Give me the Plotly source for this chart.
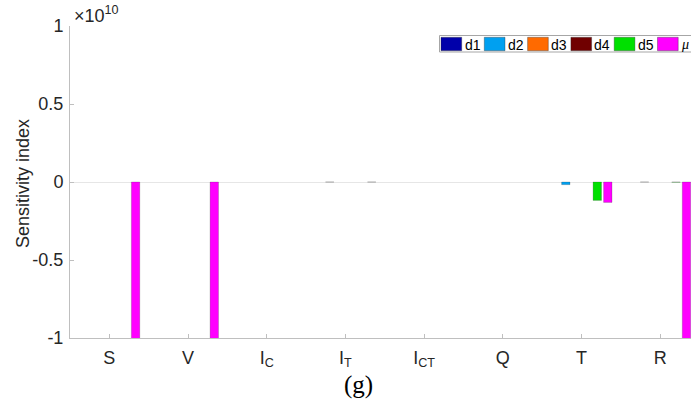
import plotly.graph_objects as go

# Model compartments (x categories) and their tick labels
categories = ["S", "V", "IC", "IT", "ICT", "Q", "T", "R"]
tick_labels = ["S", "V", "I<sub>C</sub>", "I<sub>T</sub>", "I<sub>CT</sub>", "Q", "T", "R"]

# Sensitivity indices per parameter (axis shows units of 1e10)
series_names = ["d1", "d2", "d3", "d4", "d5", "μ"]
series_colors = ["#0000AA", "#00A0F0", "#FF6A00", "#700000", "#00E000", "#FF00FF"]

d1 = [0.0, 0.0, 0.0, 0.0, 0.0, 0.0, 0.0, 0.0]
d2 = [0.0, 0.0, 0.0, -2.0e6, 0.0, 0.0, -1.7e8, -2.0e6]
d3 = [0.0, 0.0, 0.0, 0.0, 0.0, 0.0, 0.0, 0.0]
d4 = [0.0, 0.0, 0.0, 0.0, 0.0, 0.0, 0.0, 0.0]
d5 = [0.0, 0.0, 0.0, 0.0, 0.0, 0.0, -1.18e9, -1.2e7]
mu = [-1.5e10, -1.5e10, 0.0, -2.0e6, 0.0, 0.0, -1.31e9, -1.5e10]
series_values = [d1, d2, d3, d4, d5, mu]

y_ticks = [-1e10, -0.5e10, 0, 0.5e10, 1e10]
y_tick_text = ["-1", "-0.5", "0", "0.5", "1"]

W, H = 691, 409
ML, MR, MT, MB = 70, 0, 26, 71
PW, PH = W - ML - MR, H - MT - MB
CAT_PX = 78.7  # pixel width of one category slot


def paper(px, py):
    """Convert page pixel coordinates to paper coordinates."""
    return (px - ML) / PW, (H - MB - py) / PH


x_pos = list(range(1, len(categories) + 1))
edge = dict(color="rgba(40,40,40,0.35)", width=0.6)

fig = go.Figure()
for name, color, vals in zip(series_names, series_colors, series_values):
    # zero entries are left undrawn so no empty outlines sit on the baseline
    fig.add_trace(go.Bar(
        x=x_pos, y=[v if v != 0 else None for v in vals], name=name,
        marker=dict(color=color, line=edge),
        showlegend=False,
    ))

axis_grey = "#bfbfbf"
label_color = "#262626"
sans = "Liberation Sans, Arial"
serif = "Liberation Serif, Times New Roman"

fig.update_layout(
    width=W, height=H,
    margin=dict(l=ML, r=MR, t=MT, b=MB, pad=0),
    paper_bgcolor="white", plot_bgcolor="white",
    barmode="group", bargap=0.2, bargroupgap=0.2,
    font=dict(family=sans, color=label_color, size=18),
    xaxis=dict(
        range=[0.5, 0.5 + PW / CAT_PX],
        tickmode="array", tickvals=x_pos, ticktext=tick_labels,
        ticks="inside", ticklen=4, tickcolor=axis_grey,
        showline=True, linecolor=axis_grey, linewidth=1,
        showgrid=False, zeroline=False,
        tickfont=dict(size=18, color=label_color, family=sans),
        ticklabelstandoff=3,
    ),
    yaxis=dict(
        range=[-1e10, 1e10],
        tickmode="array", tickvals=y_ticks, ticktext=y_tick_text,
        ticks="inside", ticklen=4, tickcolor=axis_grey,
        showline=True, linecolor=axis_grey, linewidth=1,
        showgrid=False, zeroline=True, zerolinecolor="#e6e6e6", zerolinewidth=1,
        tickfont=dict(size=18, color=label_color, family=sans),
        ticklabelstandoff=2,
    ),
)

annotations = []
shapes = []

# Exponent label above the y axis
ex, ey = paper(72, 15)
annotations.append(dict(
    x=ex, y=ey, xref="paper", yref="paper", xanchor="left", yanchor="middle",
    text="×10<sup>10</sup>", showarrow=False,
    font=dict(size=18, color=label_color, family=sans),
))

# Y axis title
tx, ty = paper(23, 184)
annotations.append(dict(
    x=tx, y=ty, xref="paper", yref="paper", xanchor="center", yanchor="middle",
    text="Sensitivity index", textangle=-90, showarrow=False,
    font=dict(size=18, color=label_color, family=sans),
))

# Panel caption
cx, cy = paper(358, 385)
annotations.append(dict(
    x=cx, y=cy, xref="paper", yref="paper", xanchor="center", yanchor="middle",
    text="(g)", showarrow=False,
    font=dict(size=25, color="black", family=serif),
))

# Legend box with swatches, laid out in one row
bx0, by0 = paper(439.5, 52)
bx1, by1 = paper(760, 35.5)
shapes.append(dict(type="rect", xref="paper", yref="paper",
                   x0=bx0, y0=by0, x1=bx1, y1=by1,
                   fillcolor="white", line=dict(color="#a6a6a6", width=1)))
for i, (name, color) in enumerate(zip(series_names, series_colors)):
    left = 441 + 43.3 * i
    sx0, sy0 = paper(left, 50.7)
    sx1, sy1 = paper(left + 20.7, 37.3)
    shapes.append(dict(type="rect", xref="paper", yref="paper",
                       x0=sx0, y0=sy0, x1=sx1, y1=sy1,
                       fillcolor=color, line=dict(color="rgba(40,40,40,0.6)", width=0.6)))
    lx, ly = paper(left + 21.5, 44.5)
    if name == "μ":
        txt, fnt = "<i>μ</i>", dict(size=14, color="black", family=serif)
    else:
        txt, fnt = name, dict(size=14, color="black", family=sans)
    annotations.append(dict(
        x=lx, y=ly, xref="paper", yref="paper", xanchor="left", yanchor="middle",
        text=txt, showarrow=False, font=fnt,
    ))

fig.update_layout(annotations=annotations, shapes=shapes)

fig.write_html("out.html")
